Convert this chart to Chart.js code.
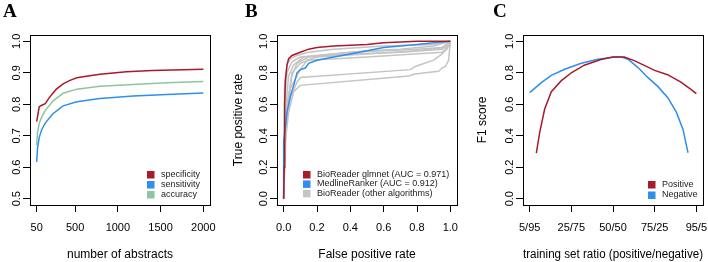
<!DOCTYPE html>
<html lang="en">
<head>
<meta charset="UTF-8">
<title>BioReader performance</title>
<script src="https://cdn.jsdelivr.net/npm/chart.js"></script>
<style>
  body { margin: 0; background: #fff; }
  #wrap { position: relative; width: 708px; height: 262px; overflow: hidden; }
  canvas { position: absolute; top: 0; }
  .tag { position: absolute; top: 1px; font: bold 19px "Liberation Serif", "DejaVu Serif", serif; line-height: 19px; color: #000; }
</style>
</head>
<body>
<div id="wrap">
  <canvas id="chartA" width="226" height="262" style="left:0"></canvas>
  <canvas id="chartB" width="240" height="262" style="left:226px"></canvas>
  <canvas id="chartC" width="240" height="262" style="left:468px"></canvas>
  <div class="tag" style="left:3px">A</div>
  <div class="tag" style="left:245px">B</div>
  <div class="tag" style="left:493px">C</div>
</div>
<script>
// ---- panel A: learning curve ----
const specX = [50, 80, 110, 150, 200, 280, 360, 440, 520, 630, 790, 1100, 1400, 2000];
const specY = [0.745, 0.792, 0.797, 0.802, 0.822, 0.848, 0.865, 0.876, 0.884, 0.889, 0.895, 0.903, 0.907, 0.911];
const curveX = [50, 60, 80, 110, 150, 240, 360, 520, 790, 1180, 1570, 2000];
const sensY = [0.617, 0.66, 0.695, 0.72, 0.74, 0.77, 0.795, 0.808, 0.818, 0.826, 0.831, 0.836];
const accY = [0.67, 0.71, 0.74, 0.76, 0.78, 0.81, 0.835, 0.848, 0.857, 0.863, 0.868, 0.872];
const ticksAX = [50, 500, 1000, 1500, 2000];
const ticksAY = [0.5, 0.6, 0.7, 0.8, 0.9, 1.0];
const legendA = ['specificity', 'sensitivity', 'accuracy'];

// ---- panel B: ROC curves ----
const glmX = [0, 0.003, 0.006, 0.01, 0.02, 0.03, 0.05, 0.1, 0.15, 0.2, 0.3, 0.4, 0.5, 0.6, 0.8, 1];
const glmY = [0, 0.2, 0.6, 0.75, 0.85, 0.89, 0.91, 0.93, 0.95, 0.96, 0.97, 0.975, 0.98, 0.99, 1, 1];
const mlrX = [0, 0, 0.01, 0.02, 0.04, 0.06, 0.08, 0.1, 0.13, 0.15, 0.2, 0.3, 0.4, 0.5, 0.6, 0.7, 0.8, 0.9, 1];
const mlrY = [0, 0.37, 0.45, 0.55, 0.65, 0.72, 0.8, 0.82, 0.83, 0.86, 0.88, 0.9, 0.92, 0.94, 0.96, 0.97, 0.98, 0.99, 1];
const otherX = [
  [0, 0.003, 0.03, 0.06, 0.1, 0.75, 0.78, 0.85, 0.93, 0.95, 0.97, 0.99, 1],
  [0, 0.01, 0.04, 0.08, 0.1, 0.76, 0.79, 0.9, 0.95, 0.98, 1],
  [0, 0.005, 0.02, 0.05, 0.1, 0.2, 0.4, 0.6, 0.8, 0.95, 1],
  [0, 0.01, 0.03, 0.06, 0.12, 0.3, 0.5, 0.7, 0.9, 1],
  [0, 0.005, 0.02, 0.04, 0.08, 0.15, 0.3, 0.6, 0.9, 1],
  [0, 0.01, 0.04, 0.1, 0.14, 0.2, 0.5, 0.8, 0.97, 1],
  [0, 0.02, 0.05, 0.08, 0.15, 0.4, 0.7, 0.95, 1],
  [0, 0.01, 0.05, 0.1, 0.15, 0.5, 0.95, 1]
];
const otherY = [
  [0, 0.3, 0.55, 0.68, 0.72, 0.78, 0.79, 0.8, 0.81, 0.83, 0.84, 0.88, 1],
  [0, 0.45, 0.64, 0.74, 0.77, 0.82, 0.84, 0.88, 0.92, 0.95, 1],
  [0, 0.6, 0.8, 0.87, 0.9, 0.91, 0.93, 0.94, 0.95, 0.96, 1],
  [0, 0.55, 0.78, 0.85, 0.9, 0.92, 0.94, 0.95, 0.97, 1],
  [0, 0.7, 0.85, 0.89, 0.91, 0.93, 0.95, 0.97, 0.98, 1],
  [0, 0.4, 0.7, 0.82, 0.88, 0.9, 0.92, 0.94, 0.96, 1],
  [0, 0.6, 0.78, 0.86, 0.9, 0.92, 0.93, 0.95, 1],
  [0, 0.5, 0.8, 0.86, 0.88, 0.9, 0.93, 0.98]
];
const ticksB = [0, 0.2, 0.4, 0.6, 0.8, 1.0];
const legendB = ['BioReader glmnet (AUC = 0.971)', 'MedlineRanker (AUC = 0.912)', 'BioReader (other algorithms)'];

// ---- panel C: F1 vs training set ratio ----
const posX = [0.16, 0.24, 0.36, 0.52, 0.76, 1.0, 1.31, 1.71, 2.0, 2.27, 2.51, 2.75, 3.0, 3.31, 3.63, 3.87, 4.0];
const posY = [0.29, 0.42, 0.57, 0.68, 0.75, 0.8, 0.848, 0.884, 0.9, 0.9, 0.877, 0.847, 0.815, 0.788, 0.74, 0.695, 0.668];
const negX = [0, 0.28, 0.52, 0.84, 1.24, 1.64, 2.04, 2.2, 2.36, 2.6, 2.84, 3.08, 3.32, 3.52, 3.68, 3.8];
const negY = [0.674, 0.737, 0.784, 0.822, 0.86, 0.886, 0.9, 0.9, 0.886, 0.833, 0.769, 0.712, 0.64, 0.55, 0.44, 0.292];
const ratioLabels = ['5/95', '25/75', '50/50', '75/25', '95/5'];
const legendC = ['Positive', 'Negative'];

const RED = '#A81B2B', BLUE = '#2F8EEE', GREEN = '#8EC4A0', GRAY = '#C4C4C4';
const FONT = '"Liberation Sans", Arial, sans-serif';

const pts = (xs, ys) => xs.map((x, i) => ({ x: x, y: ys[i] }));
const line = (data, color) => ({ data: data, borderColor: color, borderWidth: 1.5, pointRadius: 0, tension: 0, fill: false });

// frame round the plot area, R style
const frame = {
  id: 'frame',
  afterDraw(chart) {
    const a = chart.chartArea, ctx = chart.ctx;
    ctx.save();
    ctx.strokeStyle = '#000';
    ctx.lineWidth = 1;
    ctx.strokeRect(Math.round(a.left) + 0.5, Math.round(a.top) + 0.5, Math.round(a.right - a.left), Math.round(a.bottom - a.top));
    ctx.restore();
  }
};

function legendPlugin(labels, colors, x, y, dy) {
  return {
    id: 'boxLegend',
    afterDraw(chart) {
      const ctx = chart.ctx;
      ctx.save();
      ctx.font = '9px ' + FONT;
      ctx.textBaseline = 'middle';
      labels.forEach((lab, i) => {
        const yy = y + i * dy;
        ctx.fillStyle = colors[i];
        ctx.fillRect(x, yy - 3.5, 7.5, 7.5);
        ctx.fillStyle = '#222';
        ctx.fillText(lab, x + 14, yy);
      });
      ctx.restore();
    }
  };
}

function axis(min, max, ticks, fmt, opts) {
  const vertical = opts.vertical;
  return {
    type: 'linear', min: min, max: max,
    afterBuildTicks: s => { s.ticks = ticks.map(v => ({ value: v })); },
    afterFit: s => {
      if (vertical) { s.width = opts.size; s.paddingTop = 0; s.paddingBottom = 0; }
      else { s.height = opts.size; s.paddingLeft = 0; s.paddingRight = 0; }
    },
    grid: { drawOnChartArea: false, drawTicks: true, tickLength: 7, color: '#000', lineWidth: 1 },
    border: { display: false },
    ticks: {
      color: '#000', font: { family: FONT, size: 11 }, autoSkip: false,
      minRotation: vertical ? 90 : 0, maxRotation: vertical ? 90 : 0,
      crossAlign: vertical ? 'center' : 'near',
      padding: vertical ? -2 : 9,
      callback: fmt
    },
    title: {
      display: !!opts.title, text: opts.title || '', color: '#000',
      font: { family: FONT, size: 12 },
      padding: vertical ? { top: opts.titlePad, bottom: 0 } : { top: 0, bottom: 0 }
    }
  };
}

function makeChart(id, datasets, xScale, yScale, pad, legend) {
  return new Chart(document.getElementById(id), {
    type: 'line',
    data: { datasets: datasets },
    options: {
      responsive: false, animation: false,
      layout: { padding: pad },
      plugins: { legend: { display: false }, tooltip: { enabled: false } },
      scales: { x: xScale, y: yScale }
    },
    plugins: [frame, legend]
  });
}

const fmt1 = v => v.toFixed(1);

makeChart('chartA',
  [line(pts(specX, specY), RED), line(pts(curveX, sensY), BLUE), line(pts(curveX, accY), GREEN)],
  axis(-28, 2078, ticksAX, v => String(v), { size: 57, title: 'number of abstracts' }),
  axis(0.48, 1.02, ticksAY, fmt1, { vertical: true, size: 30 }),
  { top: 35, right: 16, left: 0, bottom: 0 },
  legendPlugin(legendA, [RED, BLUE, GREEN], 147, 174.5, 10));

const dsB = [line(pts(glmX, glmY), RED), line(pts(mlrX, mlrY), BLUE)];
otherX.forEach((xs, i) => dsB.push(line(pts(xs, otherY[i]), GRAY)));
makeChart('chartB', dsB,
  axis(-0.04, 1.04, ticksB, fmt1, { size: 57, title: 'False positive rate' }),
  axis(-0.04, 1.04, ticksB, fmt1, { vertical: true, size: 51, title: 'True positive rate', titlePad: 5 }),
  { top: 35, right: 9, left: 0, bottom: 0 },
  legendPlugin(legendB, [RED, BLUE, GRAY], 77, 174.5, 9.4));

makeChart('chartC',
  [line(pts(posX, posY), RED), line(pts(negX, negY), BLUE)],
  axis(-0.16, 4.16, [0, 1, 2, 3, 4], v => ratioLabels[v], { size: 57, title: 'training set ratio (positive/negative)' }),
  axis(-0.04, 1.04, ticksB, fmt1, { vertical: true, size: 55, title: 'F1 score', titlePad: 7.5 }),
  { top: 35, right: 5, left: 0, bottom: 0 },
  legendPlugin(legendC, [RED, BLUE], 180, 184.5, 10.5));
</script>
</body>
</html>
